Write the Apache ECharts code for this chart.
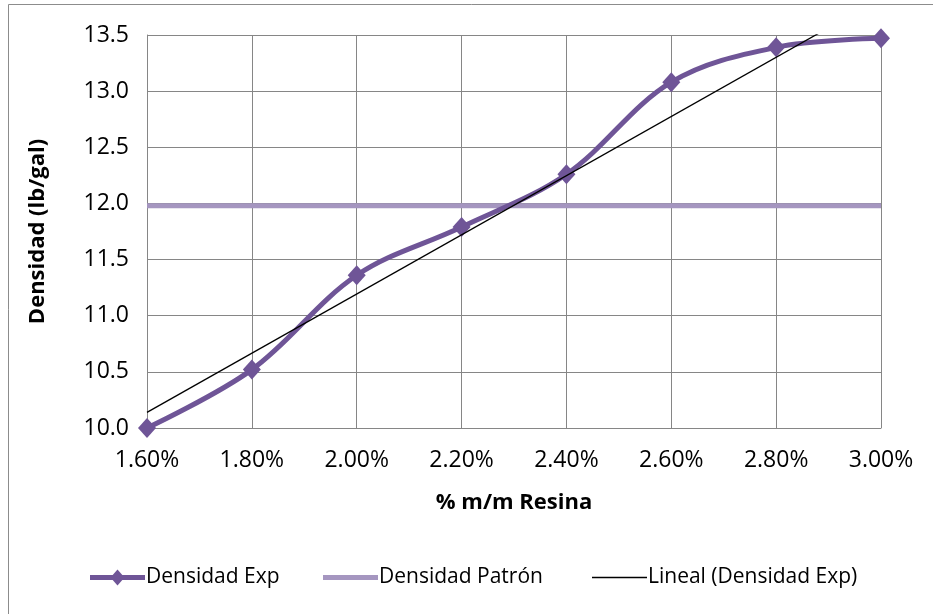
<!DOCTYPE html>
<html>
<head>
<meta charset="utf-8">
<script src="https://cdn.jsdelivr.net/npm/echarts@6/dist/echarts.min.js"></script>
<style>
  html, body { margin: 0; padding: 0; background: #fff; }
  #chart { width: 933px; height: 614px; }
</style>
</head>
<body>
<div id="chart"></div>
<script>
// Resin content (% m/m) and measured density (lb/gal)
const resina = [1.6, 1.8, 2.0, 2.2, 2.4, 2.6, 2.8, 3.0];
const densidadExp = [10.0, 10.52, 11.36, 11.79, 12.26, 13.08, 13.39, 13.47];
// Reference (standard) density, drawn across the whole range
const patronX = [1.6, 3.0];
const densidadPatron = [11.98, 11.98];

const FONT = "'Open Sans', 'Noto Sans', sans-serif";
const EXP_COLOR = '#6F5597';
const PATRON_COLOR = '#A596C0';

// Least-squares linear trend of the measured density
function linearFit(xs, ys) {
  const n = xs.length;
  const mx = xs.reduce((a, b) => a + b, 0) / n;
  const my = ys.reduce((a, b) => a + b, 0) / n;
  let sxy = 0, sxx = 0;
  for (let i = 0; i < n; i++) {
    sxy += (xs[i] - mx) * (ys[i] - my);
    sxx += (xs[i] - mx) * (xs[i] - mx);
  }
  const slope = sxy / sxx;
  return { slope, intercept: my - slope * mx };
}
const fit = linearFit(resina, densidadExp);
const trendX = [resina[0], resina[resina.length - 1]];
const trendData = trendX.map(x => [x, fit.intercept + fit.slope * x]);

const chart = echarts.init(document.getElementById('chart'), null, { renderer: 'canvas' });

// Legend keys: thick line with a diamond, thick line, thin line
const ICON_EXP = 'path://M0,5.5 H55 V10.5 H0 Z M27.5,0 L34.5,8 L27.5,16 L20.5,8 Z';

const legendBase = {
  top: 562,
  itemWidth: 55,
  itemGap: 0,
  textStyle: { fontFamily: FONT, fontSize: 21, color: '#000', padding: [0, 0, 0, -4] },
  selectedMode: false
};

chart.setOption({
  animation: false,
  backgroundColor: '#fff',
  graphic: [{
    type: 'rect',
    shape: { x: 8.5, y: 4.5, width: 1000, height: 1000 },
    style: { fill: 'none', stroke: '#8c8c8c', lineWidth: 1 },
    silent: true
  }],
  grid: { left: 147, right: 52, top: 35, bottom: 186, containLabel: false },
  legend: [
    Object.assign({}, legendBase, {
      left: 85, itemHeight: 16,
      data: [{ name: 'Densidad Exp', icon: ICON_EXP, itemStyle: { color: EXP_COLOR } }]
    }),
    Object.assign({}, legendBase, {
      left: 318, itemHeight: 5,
      data: [{ name: 'Densidad Patrón', icon: 'rect', itemStyle: { color: PATRON_COLOR } }]
    }),
    Object.assign({}, legendBase, {
      left: 587, itemHeight: 1.3,
      data: [{ name: 'Lineal (Densidad Exp)', icon: 'rect', itemStyle: { color: '#000' } }]
    })
  ],
  xAxis: {
    type: 'value',
    min: 1.6,
    max: 3.0,
    interval: 0.2,
    name: '% m/m Resina',
    nameLocation: 'middle',
    nameGap: 64,
    nameTextStyle: { fontFamily: FONT, fontSize: 22, fontWeight: 'bold', color: '#000' },
    axisLine: { show: true, lineStyle: { color: '#868686', width: 1 } },
    axisTick: { show: false },
    axisLabel: {
      fontFamily: FONT, fontSize: 23, color: '#000', margin: 21,
      formatter: v => v.toFixed(2) + '%'
    },
    splitLine: { show: true, lineStyle: { color: '#868686', width: 1 } }
  },
  yAxis: {
    type: 'value',
    min: 10,
    max: 13.5,
    interval: 0.5,
    name: 'Densidad (lb/gal)',
    nameLocation: 'middle',
    nameGap: 98,
    nameTextStyle: { fontFamily: FONT, fontSize: 22, fontWeight: 'bold', color: '#000' },
    axisLine: { show: true, lineStyle: { color: '#868686', width: 1 } },
    axisTick: { show: false },
    axisLabel: {
      fontFamily: FONT, fontSize: 23, color: '#000', margin: 18,
      formatter: v => v.toFixed(1)
    },
    splitLine: { show: true, lineStyle: { color: '#868686', width: 1 } }
  },
  series: [
    {
      name: 'Densidad Patrón',
      type: 'line',
      data: patronX.map((x, i) => [x, densidadPatron[i]]),
      symbol: 'none',
      lineStyle: { color: PATRON_COLOR, width: 5 },
      itemStyle: { color: PATRON_COLOR },
      z: 2
    },
    {
      name: 'Densidad Exp',
      type: 'line',
      data: resina.map((x, i) => [x, densidadExp[i]]),
      smooth: 0.35,
      symbol: 'diamond',
      symbolSize: [18, 20],
      showAllSymbol: true,
      lineStyle: { color: EXP_COLOR, width: 5 },
      itemStyle: { color: EXP_COLOR },
      z: 3
    },
    {
      name: 'Lineal (Densidad Exp)',
      type: 'line',
      data: trendData,
      symbol: 'none',
      clip: true,
      lineStyle: { color: '#000', width: 1.3 },
      itemStyle: { color: '#000' },
      z: 4
    }
  ]
});
</script>
</body>
</html>
